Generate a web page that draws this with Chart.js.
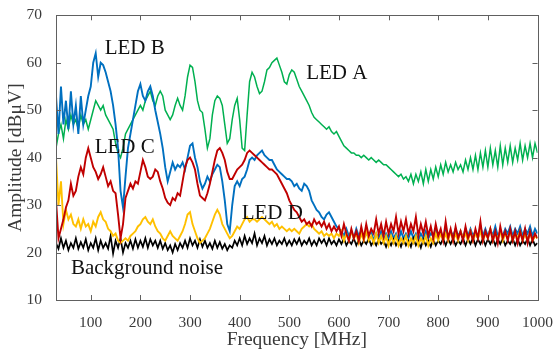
<!DOCTYPE html>
<html>
<head>
<meta charset="utf-8">
<script src="https://cdn.jsdelivr.net/npm/chart.js@4"></script>
<style>
html,body{margin:0;padding:0;background:#fff;}
#wrap{width:559px;height:352px;}
</style>
</head>
<body>
<div id="wrap"><canvas id="c" width="559" height="352"></canvas></div>
<script>
// Frequency grid [MHz]
const freq = [
30,35,40,45,50,55,60,65,70,75,80,85,90,95,100,
105,110,115,120,125,130,135,140,145,150,155,160,165,170,175,180,185,190,195,200,
205,210,215,220,225,230,235,240,245,250,255,260,265,270,275,280,285,290,295,300,
305,310,315,320,325,330,335,340,345,350,355,360,365,370,375,380,385,390,395,400,
405,410,415,420,425,430,435,440,445,450,455,460,465,470,475,480,485,490,495,500,
505,510,515,520,525,530,535,540,545,550,555,560,565,570,575,580,585,590,595,600,
605,610,615,620,625,630,635,640,645,650,655,660,665,670,675,680,685,690,695,700,
705,710,715,720,725,730,735,740,745,750,755,760,765,770,775,780,785,790,795,800,
805,810,815,820,825,830,835,840,845,850,855,860,865,870,875,880,885,890,895,900,
905,910,915,920,925,930,935,940,945,950,955,960,965,970,975,980,985,990,995,1000
];
const xTicks = [100,200,300,400,500,600,700,800,900,1000];
const yTicks = [10,20,30,40,50,60,70];

const ledA = [
42,45,47,44,48,46,49,47,48,46,49,47,48,46,48,
50,52,51,50,51,49,48,47,46,43,41,40,42,45,46,47,48,49,50,51,
50,52,53,54,52,51,53,54,53,50,49,48,49,51,52.5,51,50,53,57,59.5,
59,56,52,50,49.5,46,42,44,49,52,53,52.5,51,47,43,44,48,51,52.5,48,
42,41.5,49,56,58,57,55,53.5,54,56,58.5,59,60,60.5,61,59.5,58,56,55.5,57.5,
58.5,58,56.5,55,54,53,52,51,49.5,48.5,48,47.5,47,46.5,46,46.5,45.5,45,45.5,44.5,
43.5,42.5,42,41.5,41,41,40.5,40.5,40,40.5,40,39.5,40,39.5,39,39.5,39,38.5,38.5,38,
37.5,37,36.5,36,36.5,35.5,36,35,36.5,34.5,36.5,35,37,34.5,37.5,35,37.5,35.5,38,36,
38.5,36.5,39,37,38.5,37,39,37.5,38.5,37,39.5,37.5,40,37.5,40.5,37.5,41,38,41.5,38,
42,38.5,41.5,38,42.5,38.5,42,39,42.5,39,42,39.5,43,39.5,42.5,40,43,40,43,41
];
const ledB = [
53,45,55,47,52,46,54,47,51,45,53,47,50,53,55,
60,62,57,60,59.5,58,56,54,51,47,42,33,29.5,36,42,45,48,51,54,55.5,
53,52,54,55,53,50,47.5,45,42,38,35,37,39,37.5,38.5,38,39,37.5,40,42.5,
43,40,38,35,33.5,34.5,36,35,36.5,37.5,38.5,38,35,31,26,24.5,30,34,35,34,
35.5,36,37.5,39.5,40,39.5,40.5,41,41.5,40.5,40,39.5,39.5,38.5,37.5,37,36.5,36,35.5,35.5,
35,34,34.5,33.5,33,34.5,34,33,31,30,29,28.5,27.5,27,28,28.5,27.5,26.5,25.5,25,
24.5,23.5,25,23.5,24.5,23,25,23.5,24.5,23,24,23.5,24.5,22.5,24,23,24.5,22.5,24,23,
24.5,23,24,22.5,24.5,23,24,23,24.5,23,24,22.5,24,23,24.5,23,24,23.5,25,23.5,
24.5,23,25,23.5,24.5,23.5,25,23.5,24.5,23,25,23.5,25,23.5,24.5,23,25.5,23.5,25,23.5,
25,23.5,25.5,23.5,24.5,23.5,25,24,25.5,23.5,25,24,25.5,23.5,25,24,25.5,23.5,25,24
];
const ledC = [
31,23,25,27,29.5,31,34.5,32,33,36,38,36.5,40,42,40,
38,37,35.5,36.5,38,36,34,35,33,32.5,28,23,26,31.5,33,34.5,33.5,35,34.5,37,
39.5,38,36,35.5,36,37.5,37,35,33.5,31.5,30.5,30,31.5,31,32.5,32,35,38,39.5,40,
39,37.5,34.5,32,31.5,31,32.5,34.5,37,39.5,41.5,42,41,39.5,37,35.5,35.5,36.5,37.5,38,
38.5,39.5,41,41.5,41,40.5,40,39.5,39,38.5,38,37.5,37.5,37,36.5,35.5,34.5,33.5,32.5,31,
30,29,28.5,27.5,26.5,27,26,26.5,25.5,27,26,26.5,25.5,26.5,25,26,24.5,25.5,24.5,25.5,
23.5,26,24,22.5,25,23,24.5,22.5,25.5,23,26,23.5,25,24,27,24,26,23.5,26.5,24,
26,24.5,27.5,24,26.5,24.5,27,24,26,24.5,27.5,23.5,26,24,26.5,23.5,25.5,23,26,23.5,
25,22.5,26.5,23,25,22.5,25.5,23,24.5,22.5,25.5,23,24.5,22.5,25,23,26.5,22.5,24.5,23,
25,22.5,24.5,22,25.5,23,24.5,22.5,25,22.5,24.5,22,24.5,22.5,25,22,24.5,22.5,24,23
];
const ledD = [
40,30,35,26,29,27,28,26,25.5,27,25,27,25.5,26,24.5,
26.5,25.5,27.5,28.5,27,26.5,25,24.5,23.5,24,22.5,22,22.5,23,22.5,23.5,24,24.5,25.5,26,
27,27.5,26.5,26,27,25.5,24.5,24,23,22.5,23.5,24.5,23.5,23,22.5,23.5,24.5,26,28,28.5,
26,24.5,23,22,22.5,23,24,25,26.5,28,29,28,26,25,24,23,23.5,24.5,25.5,25,
26,27,27.5,26.5,27,27,26.5,27,27.5,27,26.5,26,26.5,25.5,26,25,25.5,25,24.5,25,
24.5,25,24.5,24,25,25.5,26,25.5,26,25,24.5,24,24.5,23.5,24,23.5,24,23,24,23.5,
24.5,22.5,24,22.5,24.5,23,24,22,24,22.5,24.5,22.5,23.5,22,24,22,23.5,22,23.5,21.5,
23.5,22,23.5,21.5,23,22,23.5,21.5,23,22,23.5,21.5,23,22,23.5,21.5,23,22,24,22.5,
24,22.5,24,22.5,24.5,22.5,24,22.5,24.5,23,24,22.5,24.5,22.5,24,23,24.5,22.5,24,23,
25,22.5,24,23,24.5,22.5,24,23,24.5,22.5,24,23,24.5,22.5,24,22.5,24,22.5,23.5,23
];
const noise = [
22,20.8,23,21,22.5,20.5,22,21,23,20.8,22.2,21,22.8,20.5,22,
21,23,20.5,22.5,21,22,20.8,23.5,19.8,22.5,21,23,20,22,21,22.5,20.8,22.8,21,22.5,
21.2,23,21,22.8,21.5,22.5,21,22.5,20.8,22,20.5,21.5,20,21.8,20.5,22,21,22.5,21,23,
21.5,22.5,21,22.8,21.2,22.5,21,22,20.8,22.5,21,22.2,20.8,21.8,20.5,21.5,21,22.5,21.5,23,
21.5,23.5,21.8,23,22,24,21.5,23,22,23.5,21.5,22.8,21.8,23,21.5,22.5,21.8,23,21.5,22.5,
21.5,22.8,21.8,23,21.5,22.5,21.8,23,21.5,22.5,21.5,23,22,22.8,21.5,23,21.8,22.5,21.5,22.8,
21.8,23,21.5,22.5,21.8,23,21.5,22.8,21.5,22.5,21.8,23,21.5,22.5,21.5,22.8,21.8,22.5,21.2,22.5,
21.5,22.8,21.5,22.5,21.2,22.8,21.5,22.5,21.2,23,21.5,22.5,21,22.8,21.5,22.5,21.2,22.8,21.5,22.5,
21.8,23,21.5,22.8,21.8,23,21.5,22.5,21.8,23,21.5,22.8,21.8,23.2,21.5,22.8,21.8,23,21.5,22.8,
21.8,23,21.5,22.8,21.8,23,21.5,22.5,21.8,23,21.5,22.8,21.5,22.5,21.8,23,21.5,22.8,21.5,22
];

const notes = [
  {text:'LED A', f:534, v:57.8},
  {text:'LED B', f:128, v:63.1},
  {text:'LED C', f:108, v:42.1},
  {text:'LED D', f:404, v:28.2},
  {text:'Background noise', f:60, v:16.7}
];

const pts = arr => arr.map((v,i)=>({x:freq[i], y:v}));
const ds = (label, arr, color, w) => ({label, data:pts(arr), borderColor:color, backgroundColor:color,
  borderWidth:w, pointRadius:0, tension:0, fill:false});

const serif = "'Liberation Serif','DejaVu Serif',serif";

const boxPlugin = {
  id:'box',
  afterDraw(chart){
    const {ctx, chartArea:a, scales:{x,y}} = chart;
    ctx.save();
    ctx.strokeStyle = '#606060';
    ctx.lineWidth = 1;
    ctx.beginPath();
    x.ticks.forEach(t=>{
      const p = Math.round(x.getPixelForValue(t.value))+0.5;
      ctx.moveTo(p, a.bottom); ctx.lineTo(p, a.bottom-5);
      ctx.moveTo(p, a.top); ctx.lineTo(p, a.top+5);
    });
    y.ticks.forEach(t=>{
      const p = Math.round(y.getPixelForValue(t.value))+0.5;
      ctx.moveTo(a.left, p); ctx.lineTo(a.left+5, p);
      ctx.moveTo(a.right, p); ctx.lineTo(a.right-5, p);
    });
    ctx.stroke();
    ctx.strokeRect(Math.round(a.left)+0.5, Math.round(a.top)+0.5, Math.round(a.right-a.left), Math.round(a.bottom-a.top));
    ctx.fillStyle = '#111';
    ctx.font = "21px " + serif;
    ctx.textAlign = 'left';
    ctx.textBaseline = 'middle';
    notes.forEach(n=>{
      ctx.fillText(n.text, x.getPixelForValue(n.f), y.getPixelForValue(n.v));
    });
    ctx.restore();
  }
};

new Chart(document.getElementById('c'), {
  type:'line',
  data:{datasets:[
    ds('LED C', ledC, '#c00000', 1.9),
    ds('LED D', ledD, '#ffc000', 1.9),
    ds('Background noise', noise, '#000000', 1.7),
    ds('LED B', ledB, '#0070c0', 1.9),
    ds('LED A', ledA, '#00b050', 1.5)
  ]},
  options:{
    responsive:false,
    animation:false,
    events:[],
    layout:{padding:{top:14, right:18, left:0, bottom:0}},
    plugins:{legend:{display:false}, tooltip:{enabled:false}},
    scales:{
      x:{type:'linear', min:30, max:1000,
        afterBuildTicks:s=>{s.ticks = xTicks.map(v=>({value:v}));},
        afterFit:s=>{s.height = 52;},
        grid:{display:false}, border:{display:false},
        ticks:{font:{family:serif, size:15.5}, color:'#3a3a3a', padding:6, maxRotation:0, autoSkip:false,
          callback:v=>String(v)},
        title:{display:true, text:'Frequency [MHz]', font:{family:serif, size:19.5}, color:'#3a3a3a', padding:{top:0,bottom:0}}
      },
      y:{type:'linear', min:10, max:70,
        afterBuildTicks:s=>{s.ticks = yTicks.map(v=>({value:v}));},
        afterFit:s=>{s.width = 56;},
        grid:{display:false}, border:{display:false},
        ticks:{font:{family:serif, size:15.5}, color:'#3a3a3a', padding:6, callback:v=>String(v)},
        title:{display:true, text:'Amplitude [dBμV]', font:{family:serif, size:19.5}, color:'#3a3a3a', padding:{top:4,bottom:0}}
      }
    }
  },
  plugins:[boxPlugin]
});
</script>
</body>
</html>
